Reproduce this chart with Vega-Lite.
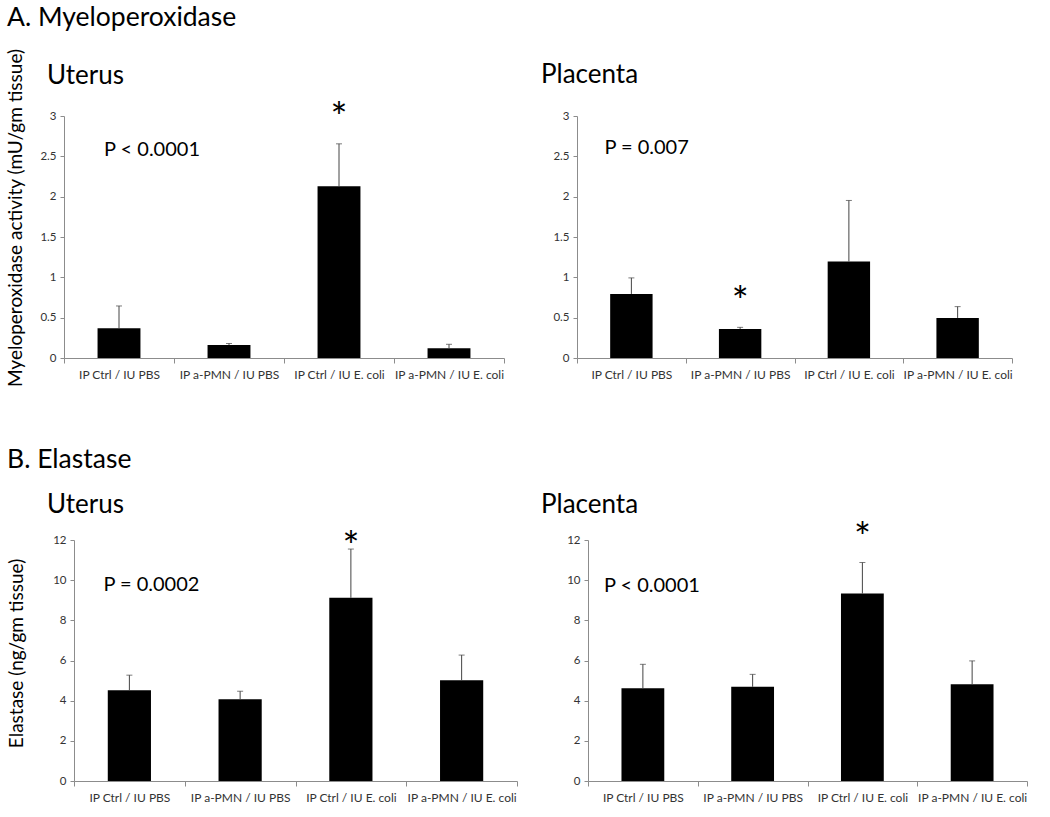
{
  "$schema": "https://vega.github.io/schema/vega-lite/v6.json",
  "padding": {"left": 5, "top": 4, "right": 5, "bottom": 5},
  "config": {
    "font": "Lato",
    "view": {"stroke": null},
    "axis": {"labelFont": "Lato", "titleFont": "Lato", "domainColor": "#8c8c8c", "tickColor": "#8c8c8c", "labelColor": "#333333", "grid": false, "labelFontSize": 11.5},
    "title": {"font": "Lato", "fontWeight": "normal", "color": "#000000", "anchor": "start"}
  },
  "datasets": {
    "bars": [
      {"assay": "MPO", "tissue": "Uterus", "group": "IP Ctrl / IU PBS", "mean": 0.37, "upper": 0.645},
      {"assay": "MPO", "tissue": "Uterus", "group": "IP a-PMN / IU PBS", "mean": 0.16, "upper": 0.18},
      {"assay": "MPO", "tissue": "Uterus", "group": "IP Ctrl / IU E. coli", "mean": 2.13, "upper": 2.655},
      {"assay": "MPO", "tissue": "Uterus", "group": "IP a-PMN / IU E. coli", "mean": 0.12, "upper": 0.17},
      {"assay": "MPO", "tissue": "Placenta", "group": "IP Ctrl / IU PBS", "mean": 0.794, "upper": 0.993},
      {"assay": "MPO", "tissue": "Placenta", "group": "IP a-PMN / IU PBS", "mean": 0.36, "upper": 0.38},
      {"assay": "MPO", "tissue": "Placenta", "group": "IP Ctrl / IU E. coli", "mean": 1.196, "upper": 1.953},
      {"assay": "MPO", "tissue": "Placenta", "group": "IP a-PMN / IU E. coli", "mean": 0.497, "upper": 0.637},
      {"assay": "Elastase", "tissue": "Uterus", "group": "IP Ctrl / IU PBS", "mean": 4.52, "upper": 5.27},
      {"assay": "Elastase", "tissue": "Uterus", "group": "IP a-PMN / IU PBS", "mean": 4.07, "upper": 4.47},
      {"assay": "Elastase", "tissue": "Uterus", "group": "IP Ctrl / IU E. coli", "mean": 9.12, "upper": 11.55},
      {"assay": "Elastase", "tissue": "Uterus", "group": "IP a-PMN / IU E. coli", "mean": 5.02, "upper": 6.27},
      {"assay": "Elastase", "tissue": "Placenta", "group": "IP Ctrl / IU PBS", "mean": 4.62, "upper": 5.81},
      {"assay": "Elastase", "tissue": "Placenta", "group": "IP a-PMN / IU PBS", "mean": 4.69, "upper": 5.31},
      {"assay": "Elastase", "tissue": "Placenta", "group": "IP Ctrl / IU E. coli", "mean": 9.33, "upper": 10.88},
      {"assay": "Elastase", "tissue": "Placenta", "group": "IP a-PMN / IU E. coli", "mean": 4.82, "upper": 5.98}
    ],
    "notes": [
      {"assay": "MPO", "tissue": "Uterus", "kind": "p", "group": "IP Ctrl / IU PBS", "y": 2.51, "label": "P < 0.0001"},
      {"assay": "MPO", "tissue": "Uterus", "kind": "star", "group": "IP Ctrl / IU E. coli", "y": 3.195, "label": "*"},
      {"assay": "MPO", "tissue": "Placenta", "kind": "p", "group": "IP Ctrl / IU PBS", "y": 2.525, "label": "P = 0.007"},
      {"assay": "MPO", "tissue": "Placenta", "kind": "star", "group": "IP a-PMN / IU PBS", "y": 0.914, "label": "*"},
      {"assay": "Elastase", "tissue": "Uterus", "kind": "p", "group": "IP Ctrl / IU PBS", "y": 9.46, "label": "P = 0.0002"},
      {"assay": "Elastase", "tissue": "Uterus", "kind": "star", "group": "IP Ctrl / IU E. coli", "y": 12.55, "label": "*"},
      {"assay": "Elastase", "tissue": "Placenta", "kind": "p", "group": "IP Ctrl / IU PBS", "y": 9.39, "label": "P < 0.0001"},
      {"assay": "Elastase", "tissue": "Placenta", "kind": "star", "group": "IP Ctrl / IU E. coli", "y": 13.0, "label": "*"}
    ]
  },
  "columns": 1,
  "align": "none",
  "spacing": 59,
  "concat": [
    {
      "title": {"text": "A. Myeloperoxidase", "fontSize": 26.5, "fontWeight": "normal", "offset": 17, "frame": "group", "dx": -57},
      "bounds": "flush",
      "spacing": 73,
      "hconcat": [
        {
          "width": 440, "height": 242,
          "title": {"text": "Uterus", "fontSize": 26, "fontWeight": "normal", "frame": "group", "dx": -17, "offset": -40.7},
          "encoding": {
            "x": {"field": "group", "type": "nominal", "sort": ["IP Ctrl / IU PBS", "IP a-PMN / IU PBS", "IP Ctrl / IU E. coli", "IP a-PMN / IU E. coli"], "scale": {"paddingInner": 0, "paddingOuter": 0},
              "axis": {"title": null, "labelAngle": 0, "tickBand": "extent", "tickSize": 5, "labelPadding": 6, "labelFontSize": 12}}
          },
          "layer": [
            {"data": {"name": "bars"}, "transform": [{"filter": "datum.assay === 'MPO' && datum.tissue === 'Uterus'"}],
             "mark": {"type": "bar", "color": "#000000", "width": {"band": 0.39}},
             "encoding": {"y": {"field": "mean", "type": "quantitative", "scale": {"domain": [0, 3]},
               "axis": {"values": [0, 0.5, 1, 1.5, 2, 2.5, 3], "format": "~g", "tickSize": 4, "labelPadding": 4, "title": "Myeloperoxidase activity (mU/gm tissue)", "titleFontSize": 19, "titleFontWeight": "normal", "titleColor": "#000000", "titleX": -43, "titleY": 101.5, "titleBaseline": "alphabetic"}}}},
            {"data": {"name": "bars"}, "transform": [{"filter": "datum.assay === 'MPO' && datum.tissue === 'Uterus'"}],
             "mark": {"type": "rule", "color": "#444444", "strokeWidth": 1},
             "encoding": {"y": {"field": "mean", "type": "quantitative"}, "y2": {"field": "upper"}}},
            {"data": {"name": "bars"}, "transform": [{"filter": "datum.assay === 'MPO' && datum.tissue === 'Uterus'"}],
             "mark": {"type": "tick", "color": "#444444", "size": 6, "thickness": 1},
             "encoding": {"y": {"field": "upper", "type": "quantitative"}}},
            {"data": {"name": "notes"}, "transform": [{"filter": "datum.assay === 'MPO' && datum.tissue === 'Uterus' && datum.kind === 'star'"}],
             "mark": {"type": "text", "fontSize": 40, "align": "center", "baseline": "top", "color": "#000000"},
             "encoding": {"y": {"field": "y", "type": "quantitative"}, "text": {"field": "label"}}},
            {"data": {"name": "notes"}, "transform": [{"filter": "datum.assay === 'MPO' && datum.tissue === 'Uterus' && datum.kind === 'p'"}],
             "mark": {"type": "text", "fontSize": 20, "align": "left", "baseline": "alphabetic", "dx": -15, "color": "#000000"},
             "encoding": {"y": {"field": "y", "type": "quantitative"}, "text": {"field": "label"}}}
          ]
        },
        {
          "width": 435, "height": 242,
          "title": {"text": "Placenta", "fontSize": 26, "fontWeight": "normal", "frame": "group", "dx": -36, "offset": 22},
          "encoding": {
            "x": {"field": "group", "type": "nominal", "sort": ["IP Ctrl / IU PBS", "IP a-PMN / IU PBS", "IP Ctrl / IU E. coli", "IP a-PMN / IU E. coli"], "scale": {"paddingInner": 0, "paddingOuter": 0},
              "axis": {"title": null, "labelAngle": 0, "tickBand": "extent", "tickSize": 5, "labelPadding": 6, "labelFontSize": 12}}
          },
          "layer": [
            {"data": {"name": "bars"}, "transform": [{"filter": "datum.assay === 'MPO' && datum.tissue === 'Placenta'"}],
             "mark": {"type": "bar", "color": "#000000", "width": {"band": 0.39}},
             "encoding": {"y": {"field": "mean", "type": "quantitative", "scale": {"domain": [0, 3]},
               "axis": {"values": [0, 0.5, 1, 1.5, 2, 2.5, 3], "format": "~g", "tickSize": 4, "labelPadding": 4, "title": null}}}},
            {"data": {"name": "bars"}, "transform": [{"filter": "datum.assay === 'MPO' && datum.tissue === 'Placenta'"}],
             "mark": {"type": "rule", "color": "#444444", "strokeWidth": 1},
             "encoding": {"y": {"field": "mean", "type": "quantitative"}, "y2": {"field": "upper"}}},
            {"data": {"name": "bars"}, "transform": [{"filter": "datum.assay === 'MPO' && datum.tissue === 'Placenta'"}],
             "mark": {"type": "tick", "color": "#444444", "size": 6, "thickness": 1},
             "encoding": {"y": {"field": "upper", "type": "quantitative"}}},
            {"data": {"name": "notes"}, "transform": [{"filter": "datum.assay === 'MPO' && datum.tissue === 'Placenta' && datum.kind === 'star'"}],
             "mark": {"type": "text", "fontSize": 40, "align": "center", "baseline": "top", "color": "#000000"},
             "encoding": {"y": {"field": "y", "type": "quantitative"}, "text": {"field": "label"}}},
            {"data": {"name": "notes"}, "transform": [{"filter": "datum.assay === 'MPO' && datum.tissue === 'Placenta' && datum.kind === 'p'"}],
             "mark": {"type": "text", "fontSize": 20, "align": "left", "baseline": "alphabetic", "dx": -27, "color": "#000000"},
             "encoding": {"y": {"field": "y", "type": "quantitative"}, "text": {"field": "label"}}}
          ]
        }
      ]
    },
    {
      "title": {"text": "B. Elastase", "fontSize": 26.5, "fontWeight": "normal", "offset": 18.9, "frame": "group", "dx": -57},
      "bounds": "flush",
      "spacing": 71,
      "hconcat": [
        {
          "width": 453, "height": 241,
          "title": {"text": "Uterus", "fontSize": 26, "fontWeight": "normal", "frame": "group", "dx": -17, "offset": 10.8},
          "encoding": {
            "x": {"field": "group", "type": "nominal", "sort": ["IP Ctrl / IU PBS", "IP a-PMN / IU PBS", "IP Ctrl / IU E. coli", "IP a-PMN / IU E. coli"], "scale": {"paddingInner": 0, "paddingOuter": 0, "range": [10, 453]},
              "axis": {"title": null, "labelAngle": 0, "tickBand": "extent", "tickSize": 5, "labelPadding": 6, "labelFontSize": 12}}
          },
          "layer": [
            {"data": {"name": "bars"}, "transform": [{"filter": "datum.assay === 'Elastase' && datum.tissue === 'Uterus'"}],
             "mark": {"type": "bar", "color": "#000000", "width": {"band": 0.39}},
             "encoding": {"y": {"field": "mean", "type": "quantitative", "scale": {"domain": [0, 12]},
               "axis": {"values": [0, 2, 4, 6, 8, 10, 12], "format": "~g", "tickSize": 4, "labelPadding": 4, "offset": -10, "title": "Elastase (ng/gm tissue)", "titleFontSize": 19, "titleFontWeight": "normal", "titleColor": "#000000", "titleX": -52, "titleY": 113, "titleBaseline": "alphabetic"}}}},
            {"data": {"name": "bars"}, "transform": [{"filter": "datum.assay === 'Elastase' && datum.tissue === 'Uterus'"}],
             "mark": {"type": "rule", "color": "#444444", "strokeWidth": 1},
             "encoding": {"y": {"field": "mean", "type": "quantitative"}, "y2": {"field": "upper"}}},
            {"data": {"name": "bars"}, "transform": [{"filter": "datum.assay === 'Elastase' && datum.tissue === 'Uterus'"}],
             "mark": {"type": "tick", "color": "#444444", "size": 6, "thickness": 1},
             "encoding": {"y": {"field": "upper", "type": "quantitative"}}},
            {"data": {"name": "notes"}, "transform": [{"filter": "datum.assay === 'Elastase' && datum.tissue === 'Uterus' && datum.kind === 'star'"}],
             "mark": {"type": "text", "fontSize": 40, "align": "center", "baseline": "top", "color": "#000000"},
             "encoding": {"y": {"field": "y", "type": "quantitative"}, "text": {"field": "label"}}},
            {"data": {"name": "notes"}, "transform": [{"filter": "datum.assay === 'Elastase' && datum.tissue === 'Uterus' && datum.kind === 'p'"}],
             "mark": {"type": "text", "fontSize": 20, "align": "left", "baseline": "alphabetic", "dx": -26, "color": "#000000"},
             "encoding": {"y": {"field": "y", "type": "quantitative"}, "text": {"field": "label"}}}
          ]
        },
        {
          "width": 439, "height": 241,
          "title": {"text": "Placenta", "fontSize": 26, "fontWeight": "normal", "frame": "group", "dx": -47, "offset": 1.5},
          "encoding": {
            "x": {"field": "group", "type": "nominal", "sort": ["IP Ctrl / IU PBS", "IP a-PMN / IU PBS", "IP Ctrl / IU E. coli", "IP a-PMN / IU E. coli"], "scale": {"paddingInner": 0, "paddingOuter": 0},
              "axis": {"title": null, "labelAngle": 0, "tickBand": "extent", "tickSize": 5, "labelPadding": 6, "labelFontSize": 12}}
          },
          "layer": [
            {"data": {"name": "bars"}, "transform": [{"filter": "datum.assay === 'Elastase' && datum.tissue === 'Placenta'"}],
             "mark": {"type": "bar", "color": "#000000", "width": {"band": 0.39}},
             "encoding": {"y": {"field": "mean", "type": "quantitative", "scale": {"domain": [0, 12]},
               "axis": {"values": [0, 2, 4, 6, 8, 10, 12], "format": "~g", "tickSize": 4, "labelPadding": 4, "title": null}}}},
            {"data": {"name": "bars"}, "transform": [{"filter": "datum.assay === 'Elastase' && datum.tissue === 'Placenta'"}],
             "mark": {"type": "rule", "color": "#444444", "strokeWidth": 1},
             "encoding": {"y": {"field": "mean", "type": "quantitative"}, "y2": {"field": "upper"}}},
            {"data": {"name": "bars"}, "transform": [{"filter": "datum.assay === 'Elastase' && datum.tissue === 'Placenta'"}],
             "mark": {"type": "tick", "color": "#444444", "size": 6, "thickness": 1},
             "encoding": {"y": {"field": "upper", "type": "quantitative"}}},
            {"data": {"name": "notes"}, "transform": [{"filter": "datum.assay === 'Elastase' && datum.tissue === 'Placenta' && datum.kind === 'star'"}],
             "mark": {"type": "text", "fontSize": 40, "align": "center", "baseline": "top", "color": "#000000"},
             "encoding": {"y": {"field": "y", "type": "quantitative"}, "text": {"field": "label"}}},
            {"data": {"name": "notes"}, "transform": [{"filter": "datum.assay === 'Elastase' && datum.tissue === 'Placenta' && datum.kind === 'p'"}],
             "mark": {"type": "text", "fontSize": 20, "align": "left", "baseline": "alphabetic", "dx": -39, "color": "#000000"},
             "encoding": {"y": {"field": "y", "type": "quantitative"}, "text": {"field": "label"}}}
          ]
        }
      ]
    }
  ]
}
